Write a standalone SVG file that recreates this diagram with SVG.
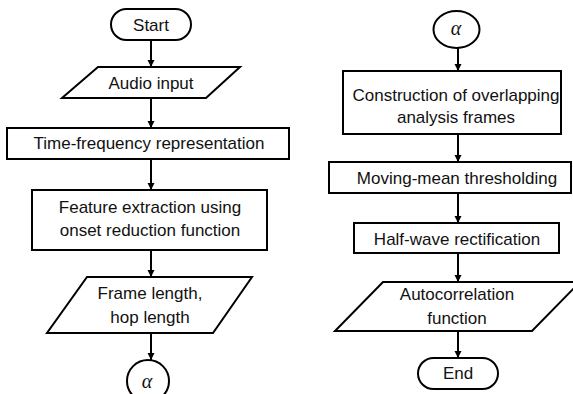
<svg xmlns="http://www.w3.org/2000/svg" width="573" height="394" viewBox="0 0 573 394">
<defs>
<marker id="ah" markerWidth="8" markerHeight="8" refX="7" refY="4" orient="auto" markerUnits="userSpaceOnUse">
<path d="M0,0.5 L7,4 L0,7.5 Z" fill="#000"/>
</marker>
<style>
.s{fill:#fff;stroke:#000;stroke-width:2}
.t{font-family:"Liberation Sans",Arial,sans-serif;font-size:17px;fill:#111;text-anchor:middle}
.a{font-family:"Liberation Serif","DejaVu Serif",serif;font-style:italic;font-size:20px;fill:#111;text-anchor:middle}
.c{stroke:#000;stroke-width:2;fill:none;marker-end:url(#ah)}
</style>
</defs>
<rect width="573" height="394" fill="#fff"/>
<g id="connectors">
<line class="c" x1="151" y1="40" x2="151" y2="67"/>
<line class="c" x1="151" y1="98" x2="151" y2="128"/>
<line class="c" x1="151" y1="159" x2="151" y2="190"/>
<line class="c" x1="151" y1="250" x2="151" y2="277"/>
<line class="c" x1="151" y1="333" x2="151" y2="360"/>
<line class="c" x1="458" y1="48" x2="458" y2="71"/>
<line class="c" x1="458" y1="134" x2="458" y2="162"/>
<line class="c" x1="458" y1="193" x2="458" y2="223"/>
<line class="c" x1="458" y1="253" x2="458" y2="282"/>
<line class="c" x1="458" y1="331" x2="458" y2="358"/>
</g>
<g id="start">
<rect class="s" x="111" y="9" width="80" height="31" rx="15.5"/>
<text class="t" x="151" y="31">Start</text>
</g>
<g id="audio">
<polygon class="s" points="98,67 240,67 206,98 62,98"/>
<text class="t" x="151" y="89">Audio input</text>
</g>
<g id="tf">
<rect class="s" x="7" y="128" width="282" height="31"/>
<text class="t" x="149" y="149">Time-frequency representation</text>
</g>
<g id="feature">
<rect class="s" x="32" y="190" width="235" height="60"/>
<text class="t" x="150" y="213">Feature extraction using</text>
<text class="t" x="150" y="236">onset reduction function</text>
</g>
<g id="frame">
<polygon class="s" points="87,277 252,277 213,333 47,333"/>
<text class="t" x="150" y="299">Frame length,</text>
<text class="t" x="150" y="323">hop length</text>
</g>
<g id="alpha1">
<ellipse class="s" cx="148" cy="381" rx="21" ry="21"/>
<text class="a" x="147" y="388">α</text>
</g>
<g id="alpha2">
<ellipse class="s" cx="456.5" cy="29.5" rx="23" ry="18.5"/>
<text class="a" x="456" y="35">α</text>
</g>
<g id="construction">
<rect class="s" x="343" y="71" width="218" height="63"/>
<text class="t" x="456" y="101">Construction of overlapping</text>
<text class="t" x="456" y="123">analysis frames</text>
</g>
<g id="moving">
<rect class="s" x="329" y="162" width="242" height="31"/>
<text class="t" x="457" y="184">Moving-mean thresholding</text>
</g>
<g id="halfwave">
<rect class="s" x="354" y="223" width="205" height="30"/>
<text class="t" x="457" y="245">Half-wave rectification</text>
</g>
<g id="autocorr">
<polygon class="s" points="383,282 580,282 532,331 335,331"/>
<text class="t" x="457" y="300">Autocorrelation</text>
<text class="t" x="457" y="324">function</text>
</g>
<g id="end">
<rect class="s" x="418" y="358" width="80" height="31" rx="15.5"/>
<text class="t" x="458" y="379">End</text>
</g>
</svg>
